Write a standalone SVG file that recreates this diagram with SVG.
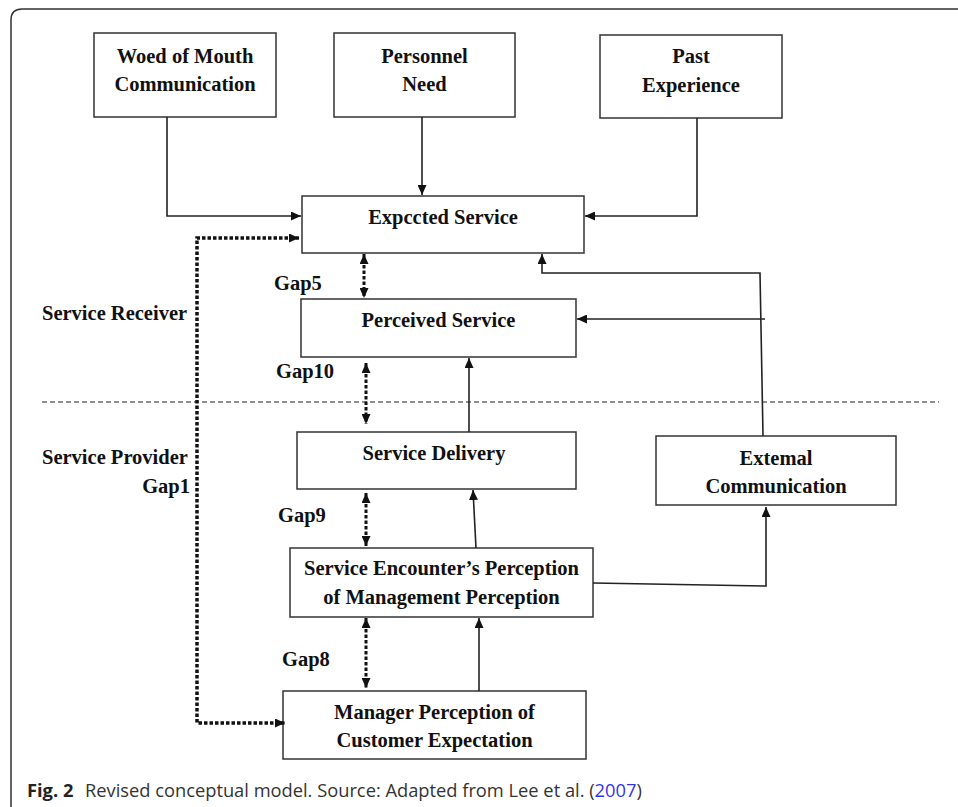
<svg xmlns="http://www.w3.org/2000/svg" width="958" height="807" viewBox="0 0 958 807">
<defs>
<marker id="arr" markerUnits="userSpaceOnUse" markerWidth="10" markerHeight="9" refX="10" refY="4.5" orient="auto-start-reverse"><path d="M0,0 L10,4.5 L0,9 z" fill="#111"/></marker>
<style>
.box{fill:#fff;stroke:#333;stroke-width:1.5}
.t{font-family:"Liberation Serif","Times New Roman",serif;font-weight:bold;font-size:20.5px;fill:#111}
.c{text-anchor:middle}
.ln{fill:none;stroke:#222;stroke-width:1.6}
.dot{fill:none;stroke:#111;stroke-width:3.5;stroke-dasharray:3.5 2}
.gap{fill:none;stroke:#111;stroke-width:3;stroke-dasharray:3.5 2}
.cap{font-family:"Open Sans","Noto Sans",sans-serif;font-size:18.3px;fill:#333}
</style>
</defs>
<rect width="958" height="807" fill="#fff"/>
<path d="M11,807 V20 Q11,9 22,9 H958" fill="none" stroke="#333" stroke-width="1.5"/>
<line x1="42" y1="402" x2="939" y2="402" stroke="#222" stroke-width="1.2" stroke-dasharray="5 3"/>

<g id="woed"><rect class="box" x="94" y="33" width="182" height="84"/><text class="t c" x="185" y="63">Woed of Mouth</text><text class="t c" x="185" y="91">Communication</text></g>
<g id="personnel"><rect class="box" x="334" y="33" width="181" height="84"/><text class="t c" x="424.5" y="63">Personnel</text><text class="t c" x="424.5" y="91">Need</text></g>
<g id="past"><rect class="box" x="600" y="35" width="182" height="83"/><text class="t c" x="691" y="63">Past</text><text class="t c" x="691" y="92">Experience</text></g>
<g id="expected"><rect class="box" x="302" y="196" width="282" height="57"/><text class="t c" x="443" y="224">Expccted Service</text></g>
<g id="perceived"><rect class="box" x="301" y="299" width="275" height="58"/><text class="t c" x="438.5" y="327">Perceived Service</text></g>
<g id="delivery"><rect class="box" x="297" y="432" width="279" height="57"/><text class="t c" x="434" y="460">Service Delivery</text></g>
<g id="external"><rect class="box" x="656" y="436" width="240" height="69"/><text class="t c" x="776" y="465">Extemal</text><text class="t c" x="776" y="493">Communication</text></g>
<g id="encounter"><rect class="box" x="290" y="548" width="303" height="69"/><text class="t c" x="441.5" y="575">Service Encounter’s Perception</text><text class="t c" x="441.5" y="604">of Management Perception</text></g>
<g id="manager"><rect class="box" x="283" y="691" width="303" height="68"/><text class="t c" x="434.5" y="719">Manager Perception of</text><text class="t c" x="434.5" y="747">Customer Expectation</text></g>

<g id="labels">
<text class="t" x="42" y="320">Service Receiver</text>
<text class="t" x="42" y="464">Service Provider</text>
<text class="t" x="190" y="493" text-anchor="end">Gap1</text>
<text class="t" x="274" y="290">Gap5</text>
<text class="t" x="276" y="378">Gap10</text>
<text class="t" x="278" y="522">Gap9</text>
<text class="t" x="282" y="666">Gap8</text>
</g>

<g id="connectors">
<path class="ln" d="M167,117 V216 H301" marker-end="url(#arr)"/>
<path class="ln" d="M422,117 V195" marker-end="url(#arr)"/>
<path class="ln" d="M697,118 V216 H585" marker-end="url(#arr)"/>
<path class="ln" d="M763,436 L760,273 H542 V254" marker-end="url(#arr)"/>
<path class="ln" d="M765,319 H577" marker-end="url(#arr)"/>
<path class="ln" d="M469,432 V358" marker-end="url(#arr)"/>
<path class="ln" d="M476,548 L473,490" marker-end="url(#arr)"/>
<path class="ln" d="M479,691 V618" marker-end="url(#arr)"/>
<path class="ln" d="M593,583 L766,586 V507" marker-end="url(#arr)"/>
<path class="dot" d="M299,238 H197 V723 H285" marker-start="url(#arr)" marker-end="url(#arr)"/>
<path class="gap" d="M364,254 V298" marker-start="url(#arr)" marker-end="url(#arr)"/>
<path class="gap" d="M366,363 V424" marker-start="url(#arr)" marker-end="url(#arr)"/>
<path class="gap" d="M366,493 V546" marker-start="url(#arr)" marker-end="url(#arr)"/>
<path class="gap" d="M366,618 V688" marker-start="url(#arr)" marker-end="url(#arr)"/>
</g>

<text class="cap" x="27" y="797"><tspan font-weight="bold" fill="#222">Fig. 2</tspan><tspan x="85">Revised conceptual model. Source: Adapted from Lee et al. (</tspan><tspan fill="#3333ee">2007</tspan>)</text>
</svg>
